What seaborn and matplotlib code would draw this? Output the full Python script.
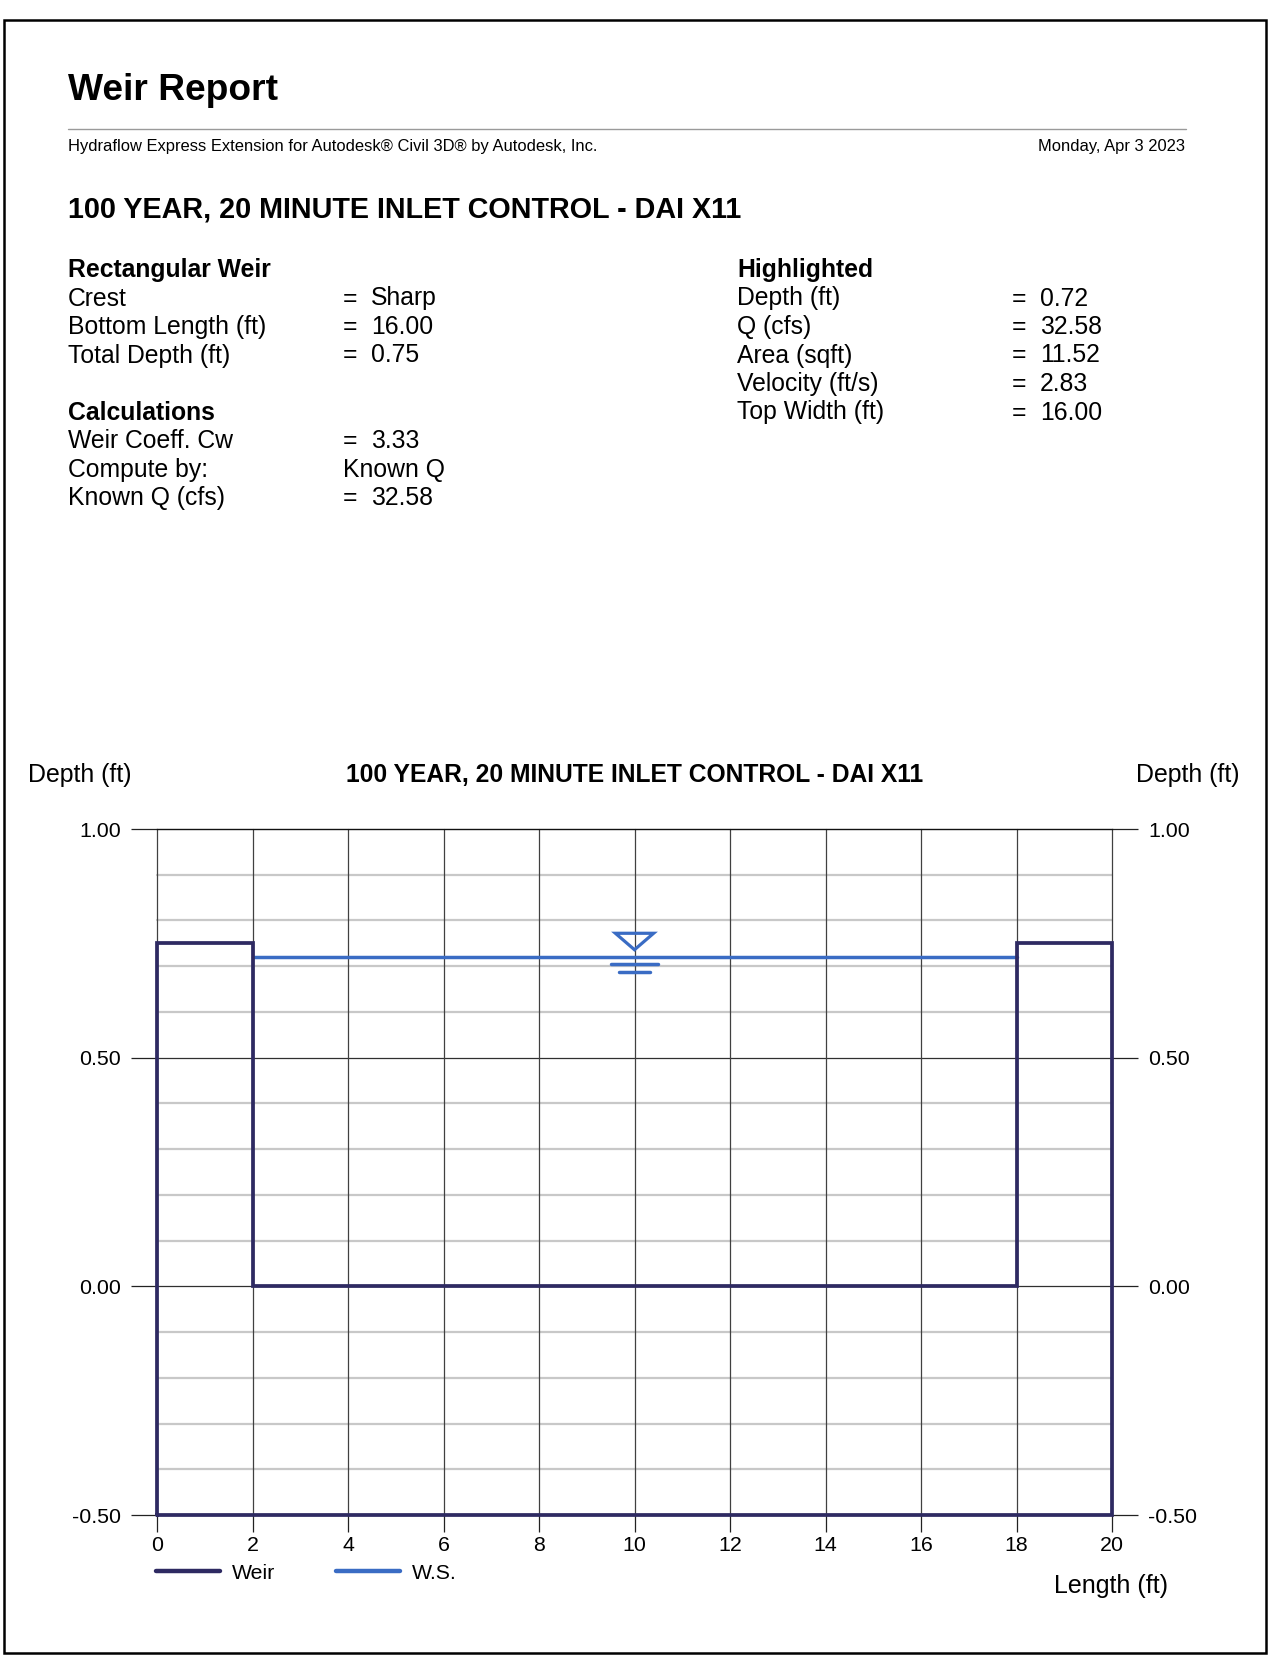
import numpy as np
import pandas as pd
import matplotlib
matplotlib.use("Agg")
import matplotlib.pyplot as plt
from matplotlib.patches import Rectangle, Polygon
from matplotlib.lines import Line2D
import seaborn as sns

# ---------------- data ----------------
weir_x = [0, 0, 2, 2, 18, 18, 20, 20, 0]
weir_y = [-0.5, 0.75, 0.75, 0.0, 0.0, 0.75, 0.75, -0.5, -0.5]
ws_x = [2, 18]
ws_y = [0.72, 0.72]
ws_depth = 0.72
x_ticks = [0, 2, 4, 6, 8, 10, 12, 14, 16, 18, 20]
y_ticks = [-0.50, 0.00, 0.50, 1.00]
y_labels = ["-0.50", "0.00", "0.50", "1.00"]

title = "Weir Report"
subtitle_left = "Hydraflow Express Extension for Autodesk® Civil 3D® by Autodesk, Inc."
subtitle_right = "Monday, Apr 3 2023"
project = "100 YEAR, 20 MINUTE INLET CONTROL - DAI X11"
left_rows = [("Rectangular Weir", None, True), ("Crest", "Sharp", False),
             ("Bottom Length (ft)", "16.00", False), ("Total Depth (ft)", "0.75", False),
             ("", None, False),
             ("Calculations", None, True), ("Weir Coeff. Cw", "3.33", False),
             ("Compute by:", "Known Q*", False), ("Known Q (cfs)", "32.58", False)]
right_rows = [("Highlighted", None, True), ("Depth (ft)", "0.72", False),
              ("Q (cfs)", "32.58", False), ("Area (sqft)", "11.52", False),
              ("Velocity (ft/s)", "2.83", False), ("Top Width (ft)", "16.00", False)]

WEIR_COLOR = "#2e2a62"
WS_COLOR = "#3a6cc4"

sns.set_theme(style="white")
plt.rcParams["font.family"] = ["Liberation Sans", "DejaVu Sans"]
plt.rcParams["text.color"] = "black"
plt.rcParams["xtick.color"] = "black"
plt.rcParams["ytick.color"] = "black"
plt.rcParams["axes.labelcolor"] = "black"

W, H = 1278, 1660
fig = plt.figure(figsize=(W / 100, H / 100), dpi=100)
fig.patch.set_facecolor("white")

def fx(px):
    return px / W

def fy(py):
    return 1 - py / H

# outer frame
fig.patches.append(Rectangle((fx(4), fy(1653)), fx(1266) - fx(4), fy(20) - fy(1653),
                             transform=fig.transFigure, fill=False, edgecolor="black", lw=1.8))

fig.text(fx(68), fy(90), title, fontsize=26.7, fontweight="bold", va="center", ha="left")
fig.add_artist(Line2D([fx(68), fx(1186)], [fy(129), fy(129)], transform=fig.transFigure,
                      color="#9a9a9a", lw=1.0))
fig.text(fx(68), fy(147), subtitle_left, fontsize=11.9, va="center", ha="left")
fig.text(fx(1185), fy(147), subtitle_right, fontsize=11.9, va="center", ha="right")
fig.text(fx(68), fy(209), project, fontsize=20.7, fontweight="bold", va="center", ha="left")

FS = 17.8
row_h = 28.5
for i, (lab, val, bold) in enumerate(left_rows):
    y = 270 + i * row_h
    if lab:
        fig.text(fx(68), fy(y), lab, fontsize=FS, fontweight="bold" if bold else "normal",
                 va="center", ha="left")
    if val is not None:
        if val.endswith("*"):
            fig.text(fx(343), fy(y), val[:-1], fontsize=FS, va="center", ha="left")
        else:
            fig.text(fx(343), fy(y), "=", fontsize=FS, va="center", ha="left")
            fig.text(fx(371), fy(y), val, fontsize=FS, va="center", ha="left")

for i, (lab, val, bold) in enumerate(right_rows):
    y = 270 + i * row_h
    fig.text(fx(737), fy(y), lab, fontsize=FS, fontweight="bold" if bold else "normal",
             va="center", ha="left")
    if val is not None:
        fig.text(fx(1012), fy(y), "=", fontsize=FS, va="center", ha="left")
        fig.text(fx(1040), fy(y), val, fontsize=FS, va="center", ha="left")

# ---------------- chart ----------------
ax_l, ax_r, ax_t, ax_b = 157, 1112, 829, 1515
ax = fig.add_axes([fx(ax_l), fy(ax_b), fx(ax_r) - fx(ax_l), fy(ax_t) - fy(ax_b)])
ax.set_facecolor("white")

ax.set_xlim(0, 20)
ax.set_ylim(-0.5, 1.0)

# grid
for v in np.arange(-0.4, 1.0, 0.1):
    if abs(v) < 1e-6 or abs(v - 0.5) < 1e-6:
        continue
    ax.axhline(v, color="#c8c8c8", lw=1.6, zorder=1, clip_on=False)
for v in [0.0, 0.5]:
    ax.axhline(v, color="#303030", lw=0.9, zorder=1.2, clip_on=False)
for v in x_ticks:
    ax.axvline(v, color="#404040", lw=0.9, zorder=1.2, clip_on=False)

weir_df = pd.DataFrame({"x": weir_x, "y": weir_y, "s": "Weir"})
ws_df = pd.DataFrame({"x": ws_x, "y": ws_y, "s": "W.S."})
sns.lineplot(data=weir_df, x="x", y="y", sort=False, estimator=None, color=WEIR_COLOR,
             lw=2.7, ax=ax, zorder=3, solid_joinstyle="miter", clip_on=False)
sns.lineplot(data=ws_df, x="x", y="y", sort=False, estimator=None, color=WS_COLOR,
             lw=2.5, ax=ax, zorder=2.5, clip_on=False)

# water surface symbol
xc = 10
tri = Polygon([[xc - 0.4, ws_depth + 0.052], [xc + 0.4, ws_depth + 0.052], [xc, ws_depth + 0.016]],
              closed=True, fill=False, edgecolor=WS_COLOR, lw=2.3, zorder=4)
ax.add_patch(tri)
ax.plot([xc - 0.5, xc + 0.5], [ws_depth - 0.015, ws_depth - 0.015], color=WS_COLOR, lw=2.5,
        solid_capstyle="round", zorder=4)
ax.plot([xc - 0.33, xc + 0.33], [ws_depth - 0.033, ws_depth - 0.033], color=WS_COLOR, lw=2.5,
        solid_capstyle="round", zorder=4)

ax.set_xticks(x_ticks)
ax.set_xticklabels([str(t) for t in x_ticks])
ax.set_yticks(y_ticks)
ax.set_yticklabels(y_labels)
ax.tick_params(axis="y", which="major", left=True, right=True, labelleft=True, labelright=True,
               length=19, width=0.9, color="#222222", labelsize=15.4, direction="out", pad=7)
ax.tick_params(axis="x", which="major", bottom=True, length=12, width=0.9, color="#222222",
               labelsize=15.4, pad=3, direction="out")
ax.set_xlabel("")
ax.set_ylabel("")

for s in ["left", "right", "bottom"]:
    ax.spines[s].set_visible(False)
ax.spines["top"].set_visible(True)
ax.spines["top"].set_color("#111111")
ax.spines["top"].set_linewidth(1.0)
if ax.get_legend():
    ax.get_legend().remove()

fig.text(fx(28), fy(775), "Depth (ft)", fontsize=17.9, va="center", ha="left")
fig.text(fx(1240), fy(775), "Depth (ft)", fontsize=17.9, va="center", ha="right")
fig.text(fx(634.5), fy(775), project, fontsize=17.75, fontweight="bold", va="center", ha="center")
fig.text(fx(1168), fy(1586), "Length (ft)", fontsize=18, va="center", ha="right")

handles = [Line2D([0], [0], color=WEIR_COLOR, lw=3.2), Line2D([0], [0], color=WS_COLOR, lw=3.2)]
fig.legend(handles, ["Weir", "W.S."], loc="center left", bbox_to_anchor=(fx(156), fy(1573)),
           ncol=2, frameon=False, fontsize=15.3, handlelength=3.0, handletextpad=0.55,
           columnspacing=2.9, borderpad=0, borderaxespad=0)

fig.savefig("out.png", dpi=100, facecolor="white")
